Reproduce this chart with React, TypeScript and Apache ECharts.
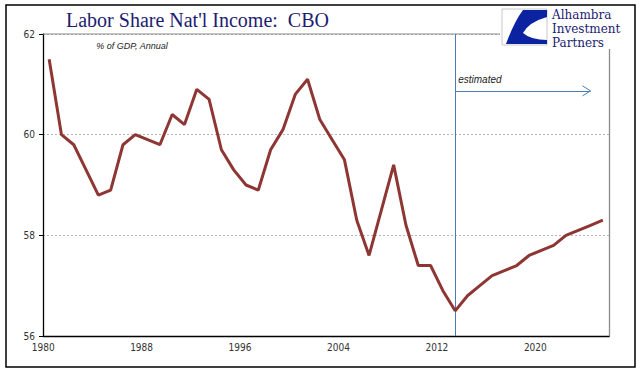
import React, { useEffect, useRef } from "react";
import * as echarts from "echarts";

const categories = [
  "1980","1981","1982","1983","1984","1985","1986","1987","1988","1989",
  "1990","1991","1992","1993","1994","1995","1996","1997","1998","1999",
  "2000","2001","2002","2003","2004","2005","2006","2007","2008","2009",
  "2010","2011","2012","2013","2014","2015","2016","2017","2018","2019",
  "2020","2021","2022","2023","2024","2025",
];
const laborShare = [
  61.5, 60.0, 59.8, 59.3, 58.8, 58.9, 59.8, 60.0, 59.9, 59.8,
  60.4, 60.2, 60.9, 60.7, 59.7, 59.3, 59.0, 58.9, 59.7, 60.1,
  60.8, 61.1, 60.3, 59.9, 59.5, 58.3, 57.6, 58.5, 59.4, 58.2,
  57.4, 57.4, 56.9, 56.5, 56.8, 57.0, 57.2, 57.3, 57.4, 57.6,
  57.7, 57.8, 58.0, 58.1, 58.2, 58.3,
];
const yTicks = { min: 56, max: 62, interval: 2 };
const estimateStart = "2013";
const arrowEnd = "2024";
const arrowLevel = 60.87;
const textLevel = 61.1;
const logoLines = ["Alhambra", "Investment", "Partners"];

const TICK_FONT = "'DejaVu Sans Condensed', 'Liberation Sans Narrow', 'DejaVu Sans', sans-serif";
const SERIF = "'Liberation Serif', 'DejaVu Serif', serif";
const BLUE = "#4a7cb4";

export default function App() {
  const ref = useRef<HTMLDivElement>(null);
  useEffect(() => {
    if (!ref.current) return;
    echarts.graphic.registerShape(
      "logo",
      echarts.graphic.extendPath(
        "M21,1 L45,1 L45,8 Q27,13 21,24 Q29,31 45,31 L45,35 L4,35 Q12,13 21,1 Z",
        {}
      )
    );
    const chart = echarts.init(ref.current, null, { renderer: "svg" });
    const option: any = {
      animation: false,
      backgroundColor: "#ffffff",
      grid: { left: 43, top: 34, right: 32, bottom: 39, containLabel: false },
      xAxis: {
        type: "category",
        data: categories,
        boundaryGap: true,
        axisLine: { lineStyle: { color: "#000", width: 1.3 } },
        axisTick: { interval: 7, length: 5, lineStyle: { color: "#000" } },
        axisLabel: {
          interval: 7,
          margin: 6,
          color: "#333",
          fontSize: 10,
          fontFamily: TICK_FONT,
          padding: [0, 12, 0, 0],
        },
        splitLine: { show: false },
      },
      yAxis: [
        {
          type: "value",
          min: yTicks.min,
          max: yTicks.max,
          interval: yTicks.interval,
          axisLine: { show: true, lineStyle: { color: "#000", width: 1.3 } },
          axisTick: { show: true, length: 4, lineStyle: { color: "#000" } },
          axisLabel: { margin: 8, color: "#333", fontSize: 10, fontFamily: TICK_FONT },
          splitLine: { show: true, lineStyle: { color: "#b5b5b5", type: [2, 2], width: 1 } },
        },
        {
          type: "value",
          position: "right",
          min: yTicks.min,
          max: yTicks.max,
          interval: yTicks.interval,
          axisLine: { show: true, lineStyle: { color: "#8c8c8c", width: 1.3 } },
          axisTick: { show: false },
          axisLabel: { show: false },
          splitLine: { show: false },
        },
      ],
      series: [
        {
          type: "line",
          data: laborShare,
          showSymbol: false,
          symbol: "none",
          lineStyle: { color: "#8e3633", width: 3 },
          z: 5,
          markLine: {
            silent: true,
            symbol: ["none", "none"],
            label: { show: false },
            data: [
              { xAxis: estimateStart, lineStyle: { color: BLUE, width: 1, type: "solid" } },
              [
                { coord: [estimateStart, arrowLevel], lineStyle: { color: BLUE, width: 1, type: "solid" } },
                { coord: [arrowEnd, arrowLevel] },
              ],
            ],
          },
        },
      ],
    };
    chart.setOption(option);

    const tip = chart.convertToPixel({ gridIndex: 0 }, [arrowEnd, arrowLevel]) as number[];
    const txt = chart.convertToPixel({ gridIndex: 0 }, [estimateStart, textLevel]) as number[];
    const leftTop = chart.convertToPixel({ gridIndex: 0 }, [categories[0], yTicks.max]) as number[];
    const gridRect = (chart as any).getModel().getComponent("grid", 0).coordinateSystem.getRect();

    const logoTexts = logoLines.map((t, i) => ({
      type: "text",
      x: 552,
      y: 15 + i * 14,
      style: {
        text: t,
        fill: "#1a2270",
        font: "12px 'DejaVu Serif', serif",
        verticalAlign: "middle",
      },
      z: 22,
    }));

    chart.setOption({
      graphic: [
        {
          type: "line",
          shape: { x1: gridRect.x, y1: gridRect.y, x2: gridRect.x + gridRect.width, y2: gridRect.y },
          style: { stroke: "#8c8c8c", lineWidth: 1.2 },
          z: 4,
        },
        {
          type: "polyline",
          shape: { points: [[tip[0] - 8, tip[1] - 5], [tip[0], tip[1]], [tip[0] - 8, tip[1] + 5]] },
          style: { stroke: BLUE, lineWidth: 1, fill: "none" },
          z: 10,
        },
        {
          type: "text",
          x: txt[0] + 3,
          y: txt[1],
          style: {
            text: "estimated",
            fill: "#222",
            font: "italic 10px 'Liberation Sans', 'DejaVu Sans', sans-serif",
            verticalAlign: "middle",
          },
          z: 10,
        },
        {
          type: "text",
          x: leftTop[0] + 47,
          y: 46,
          style: {
            text: "% of GDP, Annual",
            fill: "#222",
            font: "italic 9px 'Liberation Sans', 'DejaVu Sans', sans-serif",
            verticalAlign: "middle",
          },
          z: 10,
        },
        {
          type: "text",
          x: 66,
          y: 20,
          style: {
            text: "Labor Share Nat'l Income:  CBO",
            fill: "#1d1d6f",
            font: `20px ${SERIF}`,
            verticalAlign: "middle",
          },
          z: 10,
        },
        {
          type: "rect",
          shape: { x: 500, y: 7, width: 131, height: 42 },
          style: { fill: "#ffffff" },
          z: 20,
        },
        {
          type: "rect",
          shape: { x: 502, y: 9, width: 45, height: 36 },
          style: { fill: "#ffffff", stroke: "#c8c8c8", lineWidth: 1 },
          z: 21,
        },
        {
          type: "logo",
          x: 502,
          y: 9,
          scaleX: 1,
          scaleY: 1,
          style: { fill: "#0b23a0" },
          z: 22,
        },
        ...logoTexts,
        {
          type: "rect",
          shape: { x: 6, y: 5, width: 629, height: 362 },
          style: { fill: "none", stroke: "#000", lineWidth: 1.5 },
          z: 30,
        },
      ],
    });
    return () => chart.dispose();
  }, []);
  return (
    <div
      ref={ref}
      style={{ position: "fixed", left: 0, top: 0, width: 641, height: 375, background: "#fff" }}
    />
  );
}
